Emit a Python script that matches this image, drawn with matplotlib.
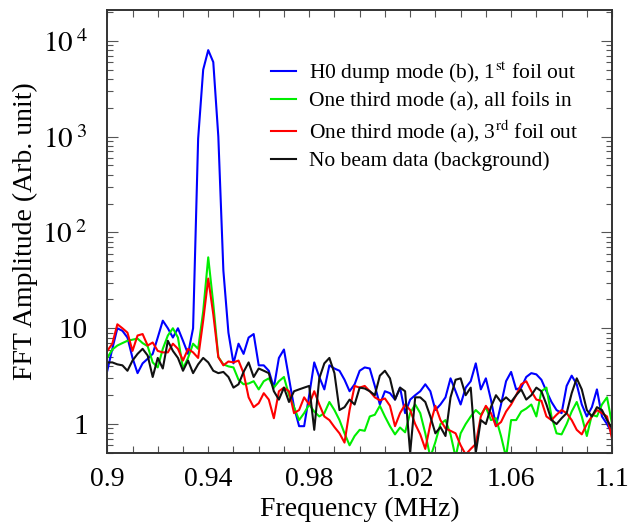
import numpy as np
import matplotlib
matplotlib.use('Agg')
from matplotlib import pyplot as plt
from matplotlib.ticker import FixedLocator, FuncFormatter, LogLocator, NullFormatter

plt.rcParams['font.family'] = ['Liberation Serif', 'DejaVu Serif']
plt.rcParams['mathtext.fontset'] = 'stix'

# frequency grid (MHz)
freq = np.linspace(0.9, 1.1, 101)

h0_dump = [3.6, 6.1, 10, 9.4, 8, 4.9, 3.4, 4.3, 4.8, 5.4, 8, 12, 10, 8, 10, 7.4, 5.4,
           10, 950, 5000, 8000, 6000, 1000, 40, 9,
           4.3, 6.9, 5.4, 8.0, 8.7, 4.1, 4.1, 3.6, 2.4, 4.9, 6.0, 3.0, 1.5, 0.95, 0.95, 2.0,
           4.4, 3.1, 2.3, 4.1, 3.8, 3.6, 2.9, 2.2, 2.6, 3.6,
           3.9, 3.8, 2.5, 1.6, 2.2, 2.1, 1.8, 2.4, 1.3, 1.8, 2.0, 2.2, 2.6, 2.2, 1.4, 1.6,
           1.9, 3.0, 2.2, 1.6, 2.4, 2.8, 4.3, 2.3, 3.0,
           1.8, 0.95, 1.6, 2.8, 3.5, 2.3, 2.4, 3.1, 3.4, 3.3, 2.9, 2.2, 1.7, 1.4, 1.3, 2.5,
           3.2, 2.6, 1.6, 1.2, 1.5, 2.3, 1.2, 1.0, 0.8]

third_all_in = [4.9, 6.0, 6.6, 7.0, 7.4, 7.6, 7.8, 7.0, 6.5, 4.4, 3.9, 6.1, 8.4, 10, 8, 3.8, 4.9, 6.9, 6.1,
                15, 55, 18, 5, 4.2, 4.0,
                3.9, 2.9, 2.6, 2.65, 2.8, 2.3, 2.8, 3.0, 2.4, 2.8, 3.1, 2.0, 1.5, 1.1, 1.3, 1.6,
                1.35, 1.2, 1.3, 1.7, 1.4, 1.1, 0.8, 0.6, 0.75, 0.87,
                0.85, 1.2, 1.25, 1.55, 1.2, 0.95, 0.78, 0.92, 0.82, 1.3, 1.6, 1.3, 0.8, 0.45, 0.65,
                1.0, 1.1, 0.78, 0.45, 0.8, 1.0, 1.2, 1.4, 1.25, 1.5,
                1.1, 1.15, 0.75, 0.45, 1.1, 1.1, 1.35, 1.45, 1.6, 1.2, 2.2, 2.4, 1.2, 0.8, 0.78,
                1.0, 1.35, 1.7, 1.2, 0.75, 1.25, 1.2, 1.6, 1.9, 1.0]

third_3rd_out = [5.8, 6.9, 11, 10, 9, 5.8, 8.4, 8.7, 6.6, 7.1, 5.8, 5.6, 5.6, 6.9, 6.1, 4.6, 6.1, 5.6, 4.9,
                 12, 33, 14, 5, 4.1, 4.5,
                 4.4, 4.6, 3.4, 1.9, 1.5, 1.65, 2.1, 1.8, 1.15, 2.2, 2.4, 2.2, 1.3, 1.4, 1.9, 1.6,
                 2.2, 1.6, 1.2, 1.1, 0.93, 0.8, 0.64, 1.4, 2.5, 2.4,
                 2.5, 2.2, 1.9, 1.77, 1.85, 1.55, 0.95, 1.3, 1.6, 1.4, 1.0, 0.78, 0.55, 1.0, 1.55,
                 1.1, 0.9, 0.85, 0.8, 0.6, 0.48, 0.55, 0.62, 1.2, 1.55,
                 1.3, 0.95, 1.05, 1.35, 1.6, 2.0, 2.6, 2.8, 2.2, 1.8, 1.75, 1.2, 1.1, 1.25, 1.4,
                 1.3, 1.1, 0.87, 0.78, 1.0, 1.2, 1.4, 1.3, 1.2, 0.7]

no_beam = [4.4, 4.4, 4.2, 4.1, 3.6, 4.6, 5.4, 6.1, 5.2, 3.1, 4.9, 3.8, 7.4, 5.8, 4.9, 3.6, 4.6,
           3.4, 4.2, 4.9, 4.4, 3.6, 3.4, 3.5, 3.1,
           2.4, 2.6, 3.5, 4.4, 3.1, 3.8, 3.6, 3.4, 2.2, 1.8, 2.4, 1.7, 2.2, 2.3, 2.4, 2.5,
           0.87, 3.0, 4.3, 4.9, 3.4, 1.4, 1.5, 1.8, 1.6, 2.4,
           2.35, 2.2, 2.0, 3.2, 3.6, 3.0, 1.8, 2.4, 2.2, 0.5, 1.9, 1.9, 1.7, 1.2, 0.8,
           0.93, 0.75, 1.9, 2.9, 3.0, 2.0, 2.4, 0.5, 1.1, 1.0,
           1.5, 2.0, 1.7, 1.9, 1.7, 2.0, 2.3, 1.8, 2.0, 2.4, 2.2, 1.6, 1.1, 1.0, 1.15,
           1.3, 2.1, 3.0, 2.3, 1.4, 1.2, 1.5, 1.4, 1.1, 0.9]

labels = ['H0 dump mode (b), 1$^{\\mathrm{st}}$ foil out',
          'One third mode (a), all foils in',
          'One third mode (a), 3$^{\\mathrm{rd}}$ foil out',
          'No beam data (background)']
colors = ['#0000ff', '#00ee00', '#ff0000', '#111111']
xticks = [0.9, 0.94, 0.98, 1.02, 1.06, 1.1]


def ylab(v, pos):
    k = int(round(np.log10(v)))
    if k <= 1:
        return str(int(round(v)))
    return r'$10^{\;%d}$' % k


fig = plt.figure(figsize=(6.31, 5.26), dpi=100)
ax = fig.add_axes([0.170, 0.139, 0.800, 0.842])

for y, c, lab in zip([h0_dump, third_all_in, third_3rd_out, no_beam], colors, labels):
    ax.plot(freq, y, color=c, lw=1.5, label=lab)

ax.set_yscale('log')
ax.set_xlim(0.9, 1.1)
ax.set_ylim(0.5, 2.1e4)

ax.xaxis.set_major_locator(FixedLocator(xticks))
ax.xaxis.set_minor_locator(FixedLocator(np.arange(0.9, 1.1001, 0.01)))
ax.xaxis.set_major_formatter(FuncFormatter(lambda v, p: ('%g' % v)))
ax.yaxis.set_major_locator(LogLocator(base=10, numticks=10))
ax.yaxis.set_minor_locator(LogLocator(base=10, subs=np.arange(2, 10), numticks=20))
ax.yaxis.set_major_formatter(FuncFormatter(ylab))
ax.yaxis.set_minor_formatter(NullFormatter())

ax.tick_params(which='both', direction='in', top=True, right=True, color='#555555', width=0.8)
ax.tick_params(axis='y', which='major', length=8, labelsize=21, pad=14)
ax.tick_params(axis='y', which='minor', length=4)
ax.tick_params(axis='x', which='both', length=5, labelsize=20, pad=10)
for s in ax.spines.values():
    s.set_linewidth(1.4)
    s.set_color('#333333')

ax.set_xlabel('Frequency (MHz)', fontsize=20, labelpad=4)
ax.set_ylabel('FFT Amplitude (Arb. unit)', fontsize=20, labelpad=3)

ax.legend(loc='upper left', bbox_to_anchor=(0.303, 0.912), frameon=False, fontsize=15.5,
          borderpad=0, handlelength=1.15, handletextpad=0.6, labelspacing=0.28)

fig.savefig('out.png', dpi=100)
